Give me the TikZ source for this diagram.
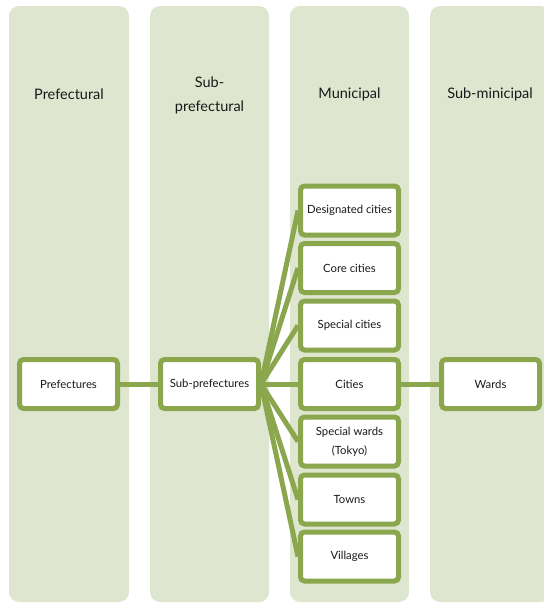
\documentclass[tikz,border=0pt]{standalone}
\usepackage{fontspec}
\setmainfont{Lato}
\definecolor{colfill}{RGB}{222,230,208}
\definecolor{boxgreen}{RGB}{138,167,78}
\definecolor{txt}{RGB}{25,25,25}
\begin{document}
\begin{tikzpicture}[x=1pt,y=-1pt,
  column/.style={fill=colfill,draw=none,rounded corners=10pt},
  header/.style={font=\fontsize{14.5}{24}\selectfont,text=txt,align=center},
  item/.style={draw=boxgreen,line width=5pt,fill=white,rounded corners=4pt,
    minimum width=98pt,minimum height=49pt,inner sep=0pt,align=center,
    text=txt,font=\fontsize{11.3}{19}\selectfont},
  link/.style={draw=boxgreen,line width=5pt}]
\useasboundingbox (0,0) rectangle (544,603);
% columns
\path[column] (9,6) rectangle (129,602);
\path[column] (150,6) rectangle (269,602);
\path[column] (290,6) rectangle (409,602);
\path[column] (430,6) rectangle (550,602);
% headers
\node[header] (h1) at (69,94) {Prefectural};
\node[header] (h2) at (209.5,95) {Sub-\\prefectural};
\node[header] (h3) at (349.5,94) {Municipal};
\node[header] (h4) at (490,94) {Sub-minicipal};
% boxes
\node[item] (pref) at (68.5,384) {Prefectures};
\node[item] (sub) at (209.5,384) {Sub-prefectures};
\node[item] (des) at (349.5,210.5) {Designated cities};
\node[item] (core) at (349.5,268) {Core cities};
\node[item] (spc) at (349.5,325.5) {Special cities};
\node[item] (city) at (349.5,384) {Cities};
\node[item] (spw) at (349.5,441.5) {Special wards\\(Tokyo)};
\node[item] (town) at (349.5,499.5) {Towns};
\node[item] (vil) at (349.5,556.5) {Villages};
\node[item] (ward) at (490.5,384) {Wards};
% connectors
\path[link] (pref.east) -- (sub.west);
\foreach \t in {des,core,spc,city,spw,town,vil}
  \path[link] (sub.east) -- (\t.west);
\path[link] (city.east) -- (ward.west);
\end{tikzpicture}
\end{document}
